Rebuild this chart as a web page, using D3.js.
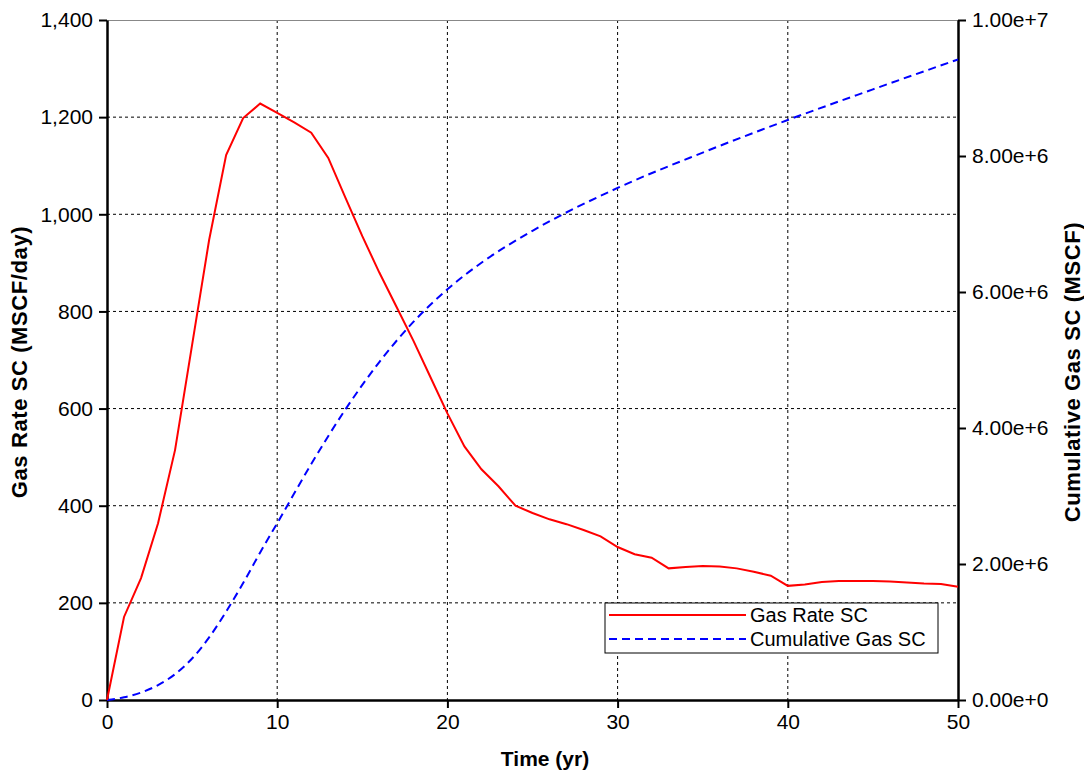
<!DOCTYPE html>
<html lang="en">
<head>
<meta charset="UTF-8">
<title>Gas Rate SC</title>
<style>
  body { margin: 0; background: #fff; }
  svg { font-family: "Liberation Sans", Arial, sans-serif; }
</style>
</head>
<body>
<div id="chart"></div>
<script src="https://d3js.org/d3.v7.min.js"></script>
<script>
// gas rate (MSCF/day) vs time (yr)
const rateYears = [0, 1, 2, 3, 4, 5, 6, 7, 8, 9, 10, 11, 12, 13, 14, 15, 16, 17, 18, 19, 20,
    21, 22, 23, 24, 25, 26, 27, 28, 29, 30, 31, 32, 33, 34, 35, 36, 37, 38, 39, 40,
    41, 42, 43, 44, 45, 46, 47, 48, 49, 50];
const rateValues = [0, 171, 251, 364, 515, 731, 947, 1122, 1198, 1228, 1209, 1189, 1168, 1116, 1035, 955, 880, 810, 740, 665, 590,
    522, 475, 440, 400, 385, 372, 362, 350, 337, 315, 300, 293, 271, 274, 276, 275, 271, 264, 256, 235,
    238, 243, 245, 245, 245, 244, 242, 240, 239, 233];

// cumulative gas (MSCF)
const cumYears = [0, 1, 2, 3, 4, 5, 6, 7, 8, 9, 10, 12, 14, 16, 18, 20, 22, 25, 30, 35, 40, 45, 50];
const cumValues = [0, 0.04e6, 0.11e6, 0.22e6, 0.38e6, 0.61e6, 0.92e6, 1.3e6, 1.72e6, 2.17e6, 2.6e6, 3.47e6, 4.27e6, 4.97e6, 5.56e6,
    6.04e6, 6.43e6, 6.9e6, 7.53e6, 8.05e6, 8.53e6, 8.98e6, 9.42e6];

const xTicks = [0, 10, 20, 30, 40, 50];
const leftTicks = [0, 200, 400, 600, 800, 1000, 1200, 1400];
const rightTicks = [0, 2e6, 4e6, 6e6, 8e6, 1e7];
const seriesNames = ["Gas Rate SC", "Cumulative Gas SC"];

const width = 1084, height = 773;
const margin = {top: 20, right: 126, bottom: 73, left: 107};
const plotW = width - margin.left - margin.right;
const plotH = height - margin.top - margin.bottom;

const svg = d3.select("#chart").append("svg")
    .attr("width", width)
    .attr("height", height);

const g = svg.append("g")
    .attr("transform", `translate(${margin.left},${margin.top})`);

const x = d3.scaleLinear().domain([0, 50]).range([0, plotW]);
const yL = d3.scaleLinear().domain([0, 1400]).range([plotH, 0]);
const yR = d3.scaleLinear().domain([0, 1e7]).range([plotH, 0]);

// grid
g.append("g").selectAll("line")
    .data(xTicks.slice(1, -1))
    .join("line")
    .attr("x1", d => x(d)).attr("x2", d => x(d))
    .attr("y1", 0).attr("y2", plotH)
    .attr("stroke", "#000").attr("stroke-width", 1)
    .attr("stroke-dasharray", "3,3");
g.append("g").selectAll("line")
    .data(leftTicks.slice(1, -1))
    .join("line")
    .attr("x1", 0).attr("x2", plotW)
    .attr("y1", d => yL(d)).attr("y2", d => yL(d))
    .attr("stroke", "#000").attr("stroke-width", 1)
    .attr("stroke-dasharray", "3,3");

// top border
g.append("line")
    .attr("x1", 0).attr("x2", plotW).attr("y1", 0.5).attr("y2", 0.5)
    .attr("stroke", "#888").attr("stroke-width", 1);

// axes
const fmtLeft = d3.format(",");
const fmtRight = d => d === 0 ? "0.00e+0" : d3.format(".2e")(d);

const xAxis = g.append("g")
    .attr("transform", `translate(0,${plotH})`)
    .call(d3.axisBottom(x).tickValues(xTicks).tickSize(8).tickPadding(6).tickSizeOuter(0));
const leftAxis = g.append("g")
    .call(d3.axisLeft(yL).tickValues(leftTicks).tickFormat(fmtLeft).tickSize(8).tickPadding(6).tickSizeOuter(0));
const rightAxis = g.append("g")
    .attr("transform", `translate(${plotW},0)`)
    .call(d3.axisRight(yR).tickValues(rightTicks).tickFormat(fmtRight).tickSize(8).tickPadding(6).tickSizeOuter(0));

[xAxis, leftAxis, rightAxis].forEach(a => {
    a.select(".domain").attr("stroke", "#000").attr("stroke-width", 2.5);
    a.selectAll(".tick line").attr("stroke", "#000").attr("stroke-width", 2);
    a.selectAll(".tick text")
        .attr("fill", "#000")
        .style("font-size", "21px")
        .style("font-family", "'Liberation Sans', Arial, sans-serif");
});

// lines
const rateData = rateYears.map((t, i) => [t, rateValues[i]]);
const cumData = cumYears.map((t, i) => [t, cumValues[i]]);

g.append("path")
    .datum(cumData)
    .attr("fill", "none")
    .attr("stroke", "#0000ff")
    .attr("stroke-width", 2)
    .attr("stroke-dasharray", "8,5")
    .attr("d", d3.line().x(d => x(d[0])).y(d => yR(d[1])).curve(d3.curveMonotoneX));

g.append("path")
    .datum(rateData)
    .attr("fill", "none")
    .attr("stroke", "#ff0000")
    .attr("stroke-width", 2)
    .attr("d", d3.line().x(d => x(d[0])).y(d => yL(d[1])));

// axis titles
svg.append("text")
    .attr("x", 545)
    .attr("y", 766)
    .attr("text-anchor", "middle")
    .style("font-size", "21px").style("font-weight", "bold")
    .text("Time (yr)");
svg.append("text")
    .attr("transform", "translate(27,362) rotate(-90)")
    .attr("text-anchor", "middle")
    .style("font-size", "22px").style("font-weight", "bold")
    .style("letter-spacing", "0.6px")
    .text("Gas Rate SC (MSCF/day)");
svg.append("text")
    .attr("transform", "translate(1080,372) rotate(-90)")
    .attr("text-anchor", "middle")
    .style("font-size", "22px").style("font-weight", "bold")
    .style("letter-spacing", "0.6px")
    .text("Cumulative Gas SC (MSCF)");

// legend
const legend = svg.append("g").attr("transform", "translate(605,603)");
legend.append("rect")
    .attr("width", 333).attr("height", 50)
    .attr("fill", "#fff").attr("stroke", "#000").attr("stroke-width", 1);
const items = legend.selectAll("g.item")
    .data(seriesNames)
    .join("g")
    .attr("class", "item")
    .attr("transform", (d, i) => `translate(0,${12 + i * 24})`);
items.append("line")
    .attr("x1", 4).attr("x2", 141)
    .attr("stroke", (d, i) => i === 0 ? "#ff0000" : "#0000ff")
    .attr("stroke-width", 2)
    .attr("stroke-dasharray", (d, i) => i === 0 ? null : "8,5");
items.append("text")
    .attr("x", 145).attr("dy", "0.35em")
    .style("font-size", "20px")
    .text(d => d);
</script>
</body>
</html>
